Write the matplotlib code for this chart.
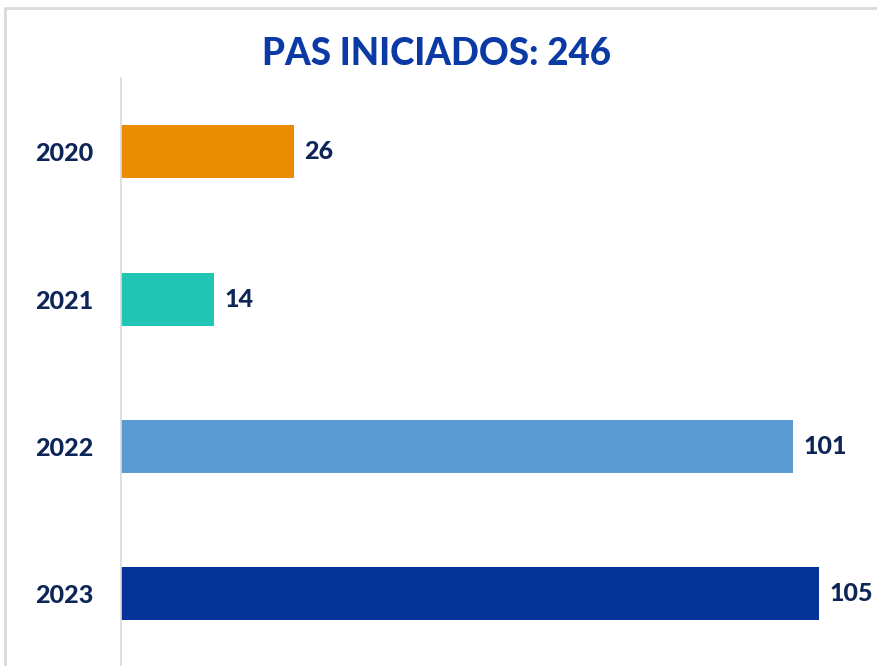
import matplotlib
matplotlib.use("Agg")
import matplotlib.pyplot as plt
from matplotlib.lines import Line2D

years = ["2020", "2021", "2022", "2023"]
counts = [26, 14, 101, 105]
bar_colors = ["#EB8C00", "#20C5B4", "#5B9BD5", "#063399"]
title = "PAS INICIADOS: 246"

navy = "#0E2557"
title_blue = "#0B3AA5"
plt.rcParams['font.family'] = ['Lato', 'DejaVu Sans']

fig = plt.figure(figsize=(8.77, 6.66), dpi=100)
ax = fig.add_axes([121 / 877, 0, (877 - 121) / 877, (666 - 78) / 666])

pos = list(range(len(years)))
ax.barh(pos, counts, height=0.36, color=bar_colors)
ax.set_ylim(3.49, -0.5)
ax.set_xlim(0, 113.7)

for p, v in zip(pos, counts):
    ax.text(v + 1.6, p, str(v), va="center", ha="left", fontsize=18,
            fontweight=900, color=navy)

ax.set_yticks(pos)
ax.set_yticklabels(years, fontsize=18, fontweight=900, color=navy)
ax.tick_params(axis="y", length=0, pad=20)
ax.set_xticks([])
for s in ["top", "right", "bottom"]:
    ax.spines[s].set_visible(False)
ax.spines["left"].set_color("#D9D9D9")
ax.spines["left"].set_linewidth(1.2)

fig.text(437 / 877, 1 - 54 / 666, title, ha="center", va="center",
         fontsize=26.5, fontweight=900, color=title_blue)

# outer chart frame (top and left edges)
fig.add_artist(Line2D([5 / 877, 5 / 877, 1], [0, 1 - 8 / 666, 1 - 8 / 666],
                      transform=fig.transFigure, color="#D9D9D9", lw=2))

fig.savefig("out.png", dpi=100)
